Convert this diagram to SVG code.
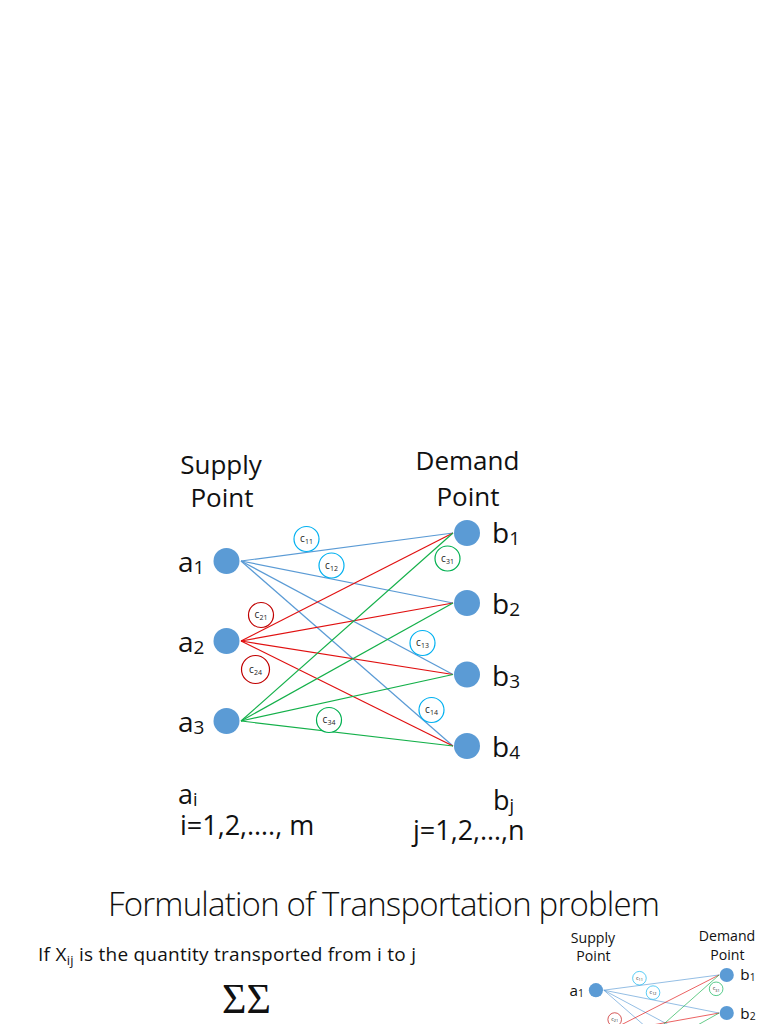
<svg xmlns="http://www.w3.org/2000/svg" xmlns:xlink="http://www.w3.org/1999/xlink" width="768" height="1024" viewBox="0 0 768 1024">
<style>
.t{font-family:"Open Sans","Liberation Sans",sans-serif;fill:#111}
.hd{font-size:26px;text-anchor:middle}
.lb{font-size:28px}
.ix{font-size:27px}
.node{fill:#5B9BD5}
.eb{stroke:#5B9BD5;stroke-width:1.2;fill:none}
.er{stroke:#E01010;stroke-width:1.2;fill:none}
.eg{stroke:#14B04A;stroke-width:1.2;fill:none}
.cl{fill:#fff;stroke-width:1.2}
.cb{stroke:#00B0F0}
.cr{stroke:#C00000}
.cg{stroke:#00B050}
.ct{font-family:"Open Sans","Liberation Sans",sans-serif;font-size:10px;fill:#222;text-anchor:middle}
</style>
<rect width="768" height="1024" fill="#fff"/>
<g id="main">
<g id="headers">
<text class="t hd" x="221" y="474">Supply</text>
<text class="t hd" x="222" y="507">Point</text>
<text class="t hd" x="467.5" y="470">Demand</text>
<text class="t hd" x="468" y="506">Point</text>
</g>
<g id="connectors">
<line class="eb" x1="241" y1="561" x2="453" y2="533"/>
<line class="eb" x1="241" y1="561" x2="453" y2="603"/>
<line class="eb" x1="241" y1="561" x2="453" y2="674.5"/>
<line class="eb" x1="241" y1="561" x2="453" y2="746"/>
<line class="er" x1="241" y1="641" x2="453" y2="533"/>
<line class="er" x1="241" y1="641" x2="453" y2="603"/>
<line class="er" x1="241" y1="641" x2="453" y2="674.5"/>
<line class="er" x1="241" y1="641" x2="453" y2="746"/>
<line class="eg" x1="241" y1="721" x2="453" y2="533"/>
<line class="eg" x1="241" y1="721" x2="453" y2="603"/>
<line class="eg" x1="241" y1="721" x2="453" y2="674.5"/>
<line class="eg" x1="241" y1="721" x2="453" y2="746"/>
</g>
<g id="lbl-c11"><circle class="cl cb" cx="306.5" cy="539" r="12.5"/><text class="ct" x="306.5" y="542">c<tspan font-size="7" dy="2">11</tspan></text></g>
<g id="lbl-c12"><circle class="cl cb" cx="331.5" cy="565.5" r="12.5"/><text class="ct" x="331.5" y="568.5">c<tspan font-size="7" dy="2">12</tspan></text></g>
<g id="lbl-c21"><circle class="cl cr" cx="261" cy="615" r="12.5"/><text class="ct" x="261" y="618">c<tspan font-size="7" dy="2">21</tspan></text></g>
<g id="lbl-c31"><circle class="cl cg" cx="447.5" cy="558.5" r="12.5"/><text class="ct" x="447.5" y="561.5">c<tspan font-size="7" dy="2">31</tspan></text></g>
<g id="lbl-c13"><circle class="cl cb" cx="422.5" cy="643" r="12.5"/><text class="ct" x="422.5" y="646">c<tspan font-size="7" dy="2">13</tspan></text></g>
<g id="lbl-c24"><circle class="cl cr" cx="255.5" cy="669.5" r="14"/><text class="ct" x="255.5" y="672.5">c<tspan font-size="7" dy="2">24</tspan></text></g>
<g id="lbl-c14"><circle class="cl cb" cx="431.5" cy="710" r="12.5"/><text class="ct" x="431.5" y="713">c<tspan font-size="7" dy="2">14</tspan></text></g>
<g id="lbl-c34"><circle class="cl cg" cx="329" cy="720" r="12.5"/><text class="ct" x="329" y="723">c<tspan font-size="7" dy="2">34</tspan></text></g>
<g id="node-a1"><circle class="node" cx="226.5" cy="561" r="13"/><text class="t lb" x="178" y="572">a<tspan font-size="19" dy="2">1</tspan></text></g>
<g id="node-a2"><circle class="node" cx="226.5" cy="641" r="13"/><text class="t lb" x="178" y="652">a<tspan font-size="19" dy="2">2</tspan></text></g>
<g id="node-a3"><circle class="node" cx="226.5" cy="721" r="13"/><text class="t lb" x="178" y="732">a<tspan font-size="19" dy="2">3</tspan></text></g>
<g id="node-b1"><circle class="node" cx="467" cy="533" r="13"/><text class="t lb" x="492" y="543">b<tspan font-size="19" dy="2">1</tspan></text></g>
<g id="node-b2"><circle class="node" cx="467" cy="603" r="13"/><text class="t lb" x="492" y="614">b<tspan font-size="19" dy="2">2</tspan></text></g>
<g id="node-b3"><circle class="node" cx="467" cy="674.5" r="13"/><text class="t lb" x="492" y="686">b<tspan font-size="19" dy="2">3</tspan></text></g>
<g id="node-b4"><circle class="node" cx="467" cy="746" r="13"/><text class="t lb" x="492" y="757">b<tspan font-size="19" dy="2">4</tspan></text></g>
<g id="indices">
<text class="t ix"><tspan x="178" y="804">a</tspan><tspan font-size="18" dy="2">i</tspan><tspan x="180" y="835">i=1,2,…., m</tspan></text>
<text class="t ix"><tspan x="493" y="810">b</tspan><tspan font-size="18" dy="2">j</tspan><tspan x="413" y="840">j=1,2,…,n</tspan></text>
</g>
</g>
<g id="formulation">
<text class="t" x="108" y="916" font-size="33" font-weight="300" textLength="552">Formulation of Transportation problem</text>
<text class="t" x="38" y="961" font-size="19" textLength="378">If X<tspan font-size="13" dy="4">ij</tspan><tspan dy="-4"> is the quantity transported from i to j</tspan></text>
<text x="222" y="1013" font-family="Liberation Serif,serif" font-size="42" fill="#111">ΣΣ</text>
</g>
<g id="thumbnail" transform="translate(472.7,685) scale(0.544)">
<use href="#headers"/>
<use href="#connectors"/>
<use href="#lbl-c11"/>
<use href="#lbl-c12"/>
<use href="#lbl-c21"/>
<use href="#lbl-c31"/>
<use href="#node-a1"/>
<use href="#node-b1"/>
<use href="#node-b2"/>
</g>
</svg>
